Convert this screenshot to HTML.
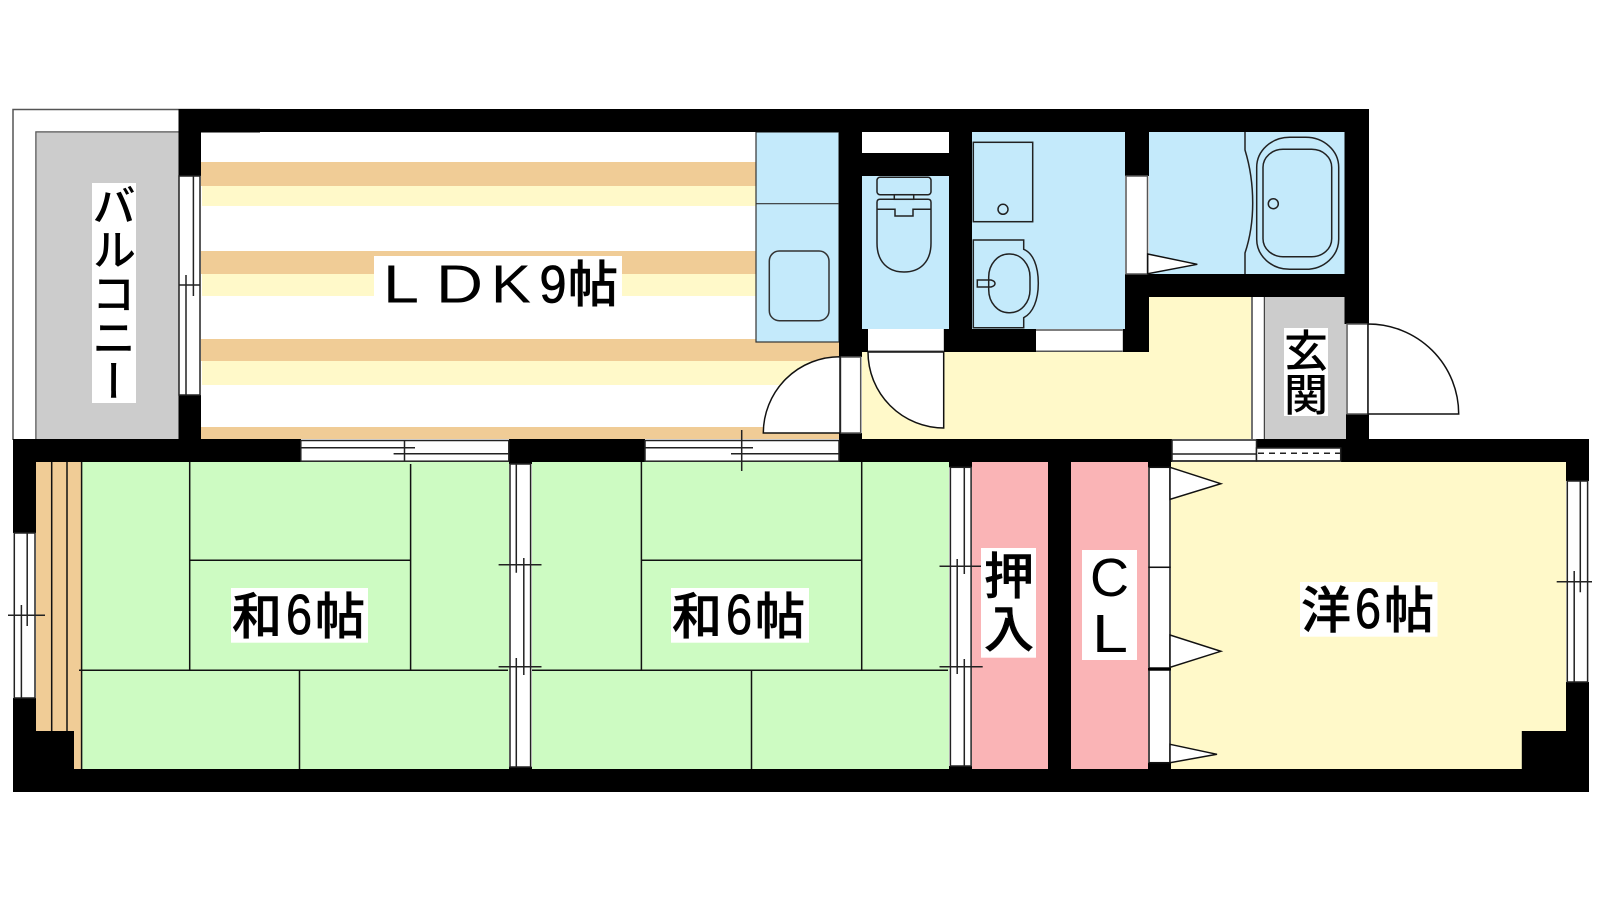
<!DOCTYPE html>
<html lang="ja">
<head>
<meta charset="utf-8">
<title>間取り図</title>
<style>
html,body{margin:0;padding:0;background:#fff;width:1600px;height:900px;overflow:hidden}
svg{position:absolute;left:0;top:0;display:block}
.j{font-family:"Liberation Sans","Noto Sans CJK JP",sans-serif;fill:#000;font-weight:500;stroke:#000;stroke-width:.5}
.l{font-family:"Liberation Sans",sans-serif;fill:#000}
.d{font-family:"Liberation Sans",sans-serif;fill:#000;stroke:#000;stroke-width:.8}
.v{position:absolute;writing-mode:vertical-rl;font-family:"Noto Sans CJK JP",sans-serif;color:#000;font-weight:500;background:#fff;text-align:center;white-space:nowrap}
</style>
</head>
<body>
<svg width="1600" height="900" viewBox="0 0 1600 900" xmlns="http://www.w3.org/2000/svg">
<rect width="1600" height="900" fill="#fff"/>

<!-- balcony -->
<path d="M13 440V109.500H260" fill="none" stroke="#555" stroke-width="1.500"/>
<path d="M36 440V132H260" fill="none" stroke="#555" stroke-width="1.500"/>
<rect x="36.500" y="132.500" width="142" height="307" fill="#ccc"/>

<!-- LDK floor stripes -->
<rect x="201" y="162" width="555" height="24" fill="#f0cc96"/>
<rect x="202" y="186" width="554" height="20" fill="#fff9c9"/>
<rect x="201" y="251" width="555" height="23" fill="#f0cc96"/>
<rect x="202" y="274" width="554" height="22" fill="#fff9c9"/>
<rect x="201" y="339" width="638" height="22" fill="#f0cc96"/>
<rect x="202" y="361" width="637" height="24" fill="#fff9c9"/>
<rect x="201" y="427" width="638" height="12" fill="#f0cc96"/>

<!-- blue wet rooms -->
<rect x="756" y="132" width="83" height="210" fill="#c4eafb" stroke="#333" stroke-width="1.200"/>
<path d="M756 203.700H839" stroke="#333" stroke-width="1.200"/>
<rect x="769.300" y="251" width="59.700" height="69.700" rx="10" fill="none" stroke="#333" stroke-width="1.500"/>
<rect x="862" y="176" width="87" height="153" fill="#c4eafb"/>
<rect x="972" y="132" width="153" height="197" fill="#c4eafb"/>
<rect x="1149" y="132" width="195.500" height="142" fill="#c4eafb"/>

<!-- hall -->
<path d="M862 352H1149V297H1251V439H862Z" fill="#fff9c9"/>
<rect x="1251" y="297" width="14" height="142" fill="#fff"/>
<path d="M1252 297V439M1264.500 297V439" stroke="#444" stroke-width="1.500"/>
<rect x="1265" y="297" width="81" height="142" fill="#ccc"/>

<!-- lower rooms -->
<rect x="36" y="462" width="46" height="307" fill="#f0cc96"/>
<rect x="82" y="462" width="427" height="307" fill="#cdfbc2"/>
<rect x="532" y="462" width="417" height="307" fill="#cdfbc2"/>
<rect x="972" y="462" width="76" height="307" fill="#fab4b6"/>
<rect x="1071" y="462" width="77" height="307" fill="#fab4b6"/>
<rect x="1171" y="462" width="395" height="307" fill="#fff9c9"/>

<!-- walls -->
<g fill="#000">
<rect x="178.500" y="109" width="1190.500" height="23"/>
<rect x="178.500" y="109" width="22.500" height="67"/>
<rect x="178.500" y="395" width="22.500" height="44"/>
<rect x="839" y="109" width="23" height="248"/>
<rect x="839" y="329" width="29" height="23"/>
<rect x="839" y="433" width="23" height="29"/>
<rect x="862" y="153" width="87" height="23"/>
<rect x="949" y="109" width="23" height="243"/>
<rect x="943.700" y="329" width="92.300" height="23"/>
<rect x="1125" y="109" width="24" height="67"/>
<rect x="1125" y="274" width="244" height="23"/>
<rect x="1125" y="274" width="24" height="78"/>
<rect x="1122.700" y="329" width="26.300" height="23"/>
<rect x="1344.500" y="109" width="24.500" height="215"/>
<rect x="1346" y="414" width="23" height="26"/>
<rect x="13" y="439" width="288" height="23"/>
<rect x="509" y="439" width="136" height="23"/>
<rect x="839" y="439" width="333" height="23"/>
<rect x="1256" y="439" width="85" height="9"/>
<rect x="1340.700" y="439" width="248.300" height="23"/>
<rect x="509" y="462" width="23" height="2"/>
<rect x="509" y="766.700" width="23" height="3"/>
<rect x="949" y="462" width="23" height="5.300"/>
<rect x="949" y="766" width="23" height="4"/>
<rect x="1048" y="462" width="23" height="307"/>
<rect x="1148" y="462" width="23" height="5.300"/>
<rect x="1148" y="762.700" width="23" height="7"/>
<rect x="13" y="439" width="23" height="94"/>
<rect x="13" y="698" width="23" height="94"/>
<rect x="13" y="731" width="61" height="40"/>
<rect x="13" y="769" width="1576" height="23"/>
<rect x="1566" y="439" width="23" height="42"/>
<rect x="1566" y="682" width="23" height="110"/>
<rect x="1521.800" y="731" width="44.200" height="40"/>
</g>

<!-- flooring / tatami lines -->
<g fill="none" stroke="#111" stroke-width="1.500">
<path d="M51.700 462V731M67 462V731M81.600 462V769"/>
<path d="M189.700 462V670M410.600 464V670M189.700 560.300H410.600M79 670.300H508M299.500 670V769"/>
<path d="M641.400 462V670M861.700 462V670M641.400 560.300H861.700M532 670.300H948M751.500 670V769"/>
</g>

<!-- windows -->
<g stroke="#222" stroke-width="1.500" fill="#fff">
<rect x="179" y="176" width="21" height="219"/>
<path d="M186 275V395M193.400 176V296M179 285H200" fill="none"/>
<rect x="300.800" y="440.500" width="208" height="20.700"/>
<path d="M300.800 447.700H415M393.600 453.700H508.800M404.500 440V461" fill="none"/>
<rect x="645" y="440.500" width="194" height="20.700"/>
<path d="M645 447.700H753M731 453.700H839M741.700 430V471" fill="none"/>
<rect x="14.300" y="533" width="20.700" height="165"/>
<path d="M21.400 605V698M27.200 533V626M8 615.300H45" fill="none"/>
<rect x="510" y="464" width="20.600" height="303"/>
<path d="M516.300 464V572.700M516.300 658V767M523.800 558V675M498.600 564.700H541.500M498.600 666.700H541.500" fill="none"/>
<rect x="950.400" y="467.300" width="20.700" height="298.700"/>
<path d="M957.200 559V674M964.300 467.300V574M964.300 659V766M939.500 566.300H981M939.500 666.700H982.700" fill="none"/>
<rect x="1567.300" y="481" width="20.300" height="201"/>
<path d="M1574.200 571V682M1580.300 481V592.300M1556.700 581.700H1592" fill="none"/>
<rect x="1172" y="440" width="84.500" height="21"/>
<path d="M1172 454H1256" fill="none"/>
<rect x="1256.500" y="448" width="84.200" height="13"/>
<path d="M1258 453.300H1340" fill="none" stroke-dasharray="6 5"/>
<path d="M1172 461H1340" fill="none"/>
</g>

<!-- door frames -->
<g fill="#fff">
<rect x="868" y="329" width="75.700" height="23"/>
<rect x="1036" y="329" width="86.700" height="23"/>
</g>
<path d="M868 351.300H943.700M1036 330H1122.700M1036 351.300H1122.700" stroke="#555" stroke-width="1.500" fill="none"/>
<g fill="#fff" stroke="#555" stroke-width="1.500">
<rect x="840.500" y="357" width="20.200" height="76"/>
<rect x="1126" y="176" width="21.500" height="98"/>
<rect x="1347" y="324" width="21" height="90"/>
</g>
<g fill="#fff" stroke="#111" stroke-width="1.500">
<path d="M840 356.700A76.500 76.500 0 0 0 763.300 433H840Z"/>
<path d="M868 352A76 76 0 0 0 943.700 428V352Z"/>
<path d="M1368 324A90.500 90 0 0 1 1458.700 414H1368Z"/>
<path d="M1147.700 254L1197.300 264.300L1147.700 273.700Z"/>
<rect x="1149" y="467.300" width="21" height="100"/>
<rect x="1149" y="567.300" width="21" height="100.700"/>
<rect x="1149" y="670" width="21" height="92.700"/>
<path d="M1170 467.300L1220.800 483.700L1170 499.300Z"/>
<path d="M1170 635L1220.800 651.300L1170 667.300Z"/>
<path d="M1170 744.300L1217 754.300L1170 762.700Z"/>
</g>
<rect x="1148" y="668" width="23" height="2.500" fill="#000"/>

<!-- toilet -->
<g fill="none" stroke="#222" stroke-width="1.500">
<rect x="877" y="177.300" width="54" height="17.400" rx="3"/>
<rect x="894.300" y="194.700" width="19.400" height="4.600"/>
<path d="M880 199.300H928Q931 199.300 931 202.300V243C931 262 920 272 904 272C888 272 877 262 877 243V202.300Q877 199.300 880 199.300Z"/>
<path d="M877 209.300H895V216H913V209.300H931"/>
<rect x="973.300" y="142.300" width="59.400" height="79.400"/>
<circle cx="1003" cy="209.300" r="5"/>
<path d="M973.300 240H1023.700V249.300C1033 253 1038.300 266 1038.300 283.300C1038.300 300 1033 313 1023.700 317.700V327.700H973.300Z"/>
<rect x="988.700" y="254" width="41.300" height="58.700" rx="20" ry="23"/>
<path d="M977.300 280H991Q995 281 995 283.500Q995 286 991 287H977.300Z"/>
<path d="M1245 132V150Q1252.700 175 1252.700 203Q1252.700 230 1245 253V274"/>
<rect x="1256.700" y="137.300" width="82" height="132" rx="33" ry="30"/>
<rect x="1263" y="149.300" width="68.700" height="107.400" rx="20" ry="18"/>
<circle cx="1273.300" cy="203.700" r="5"/>
</g>

<!-- label boxes -->
<g fill="#fff">
<rect x="374" y="256" width="248" height="55"/>
<rect x="231" y="588" width="137" height="54.700"/>
<rect x="671" y="588" width="138" height="54.700"/>
<rect x="1300" y="582" width="137.500" height="54.700"/>
<rect x="981" y="548" width="55" height="109.700"/>
<rect x="1082" y="550" width="55" height="110"/>
</g>

<!-- labels -->
<g>
<text class="l" x="383" y="302.500" font-size="54" textLength="36" lengthAdjust="spacingAndGlyphs">L</text>
<text class="l" x="436" y="302.500" font-size="54" textLength="47" lengthAdjust="spacingAndGlyphs">D</text>
<text class="l" x="491" y="302.500" font-size="54" textLength="40" lengthAdjust="spacingAndGlyphs">K</text>
<text class="d" x="539.500" y="302.500" font-size="53" textLength="27" lengthAdjust="spacingAndGlyphs">9</text>
<text class="j" x="568" y="302" font-size="50">帖</text>

<text class="j" x="232" y="634" font-size="50">和</text>
<text class="d" x="286" y="634" font-size="57" textLength="26" lengthAdjust="spacingAndGlyphs">6</text>
<text class="j" x="315" y="634" font-size="50">帖</text>

<text class="j" x="672" y="634" font-size="50">和</text>
<text class="d" x="726" y="634" font-size="57" textLength="26" lengthAdjust="spacingAndGlyphs">6</text>
<text class="j" x="755" y="634" font-size="50">帖</text>

<text class="j" x="1301" y="628" font-size="50">洋</text>
<text class="d" x="1355" y="628" font-size="57" textLength="26" lengthAdjust="spacingAndGlyphs">6</text>
<text class="j" x="1384" y="628" font-size="50">帖</text>

<text class="j" x="984" y="594" font-size="50">押</text>
<text class="j" x="984" y="647" font-size="50">入</text>

<text class="l" x="1090" y="596" font-size="54">C</text>
<text class="l" x="1092" y="652" font-size="54" textLength="36" lengthAdjust="spacingAndGlyphs">L</text>
</g>
</svg>
<div class="v" style="left:92px;top:183px;width:44px;height:220px;font-size:44px;line-height:44px">バルコニー</div>
<div class="v" style="left:1284px;top:328px;width:44px;height:88px;font-size:44px;line-height:44px">玄関</div>
</body>
</html>
